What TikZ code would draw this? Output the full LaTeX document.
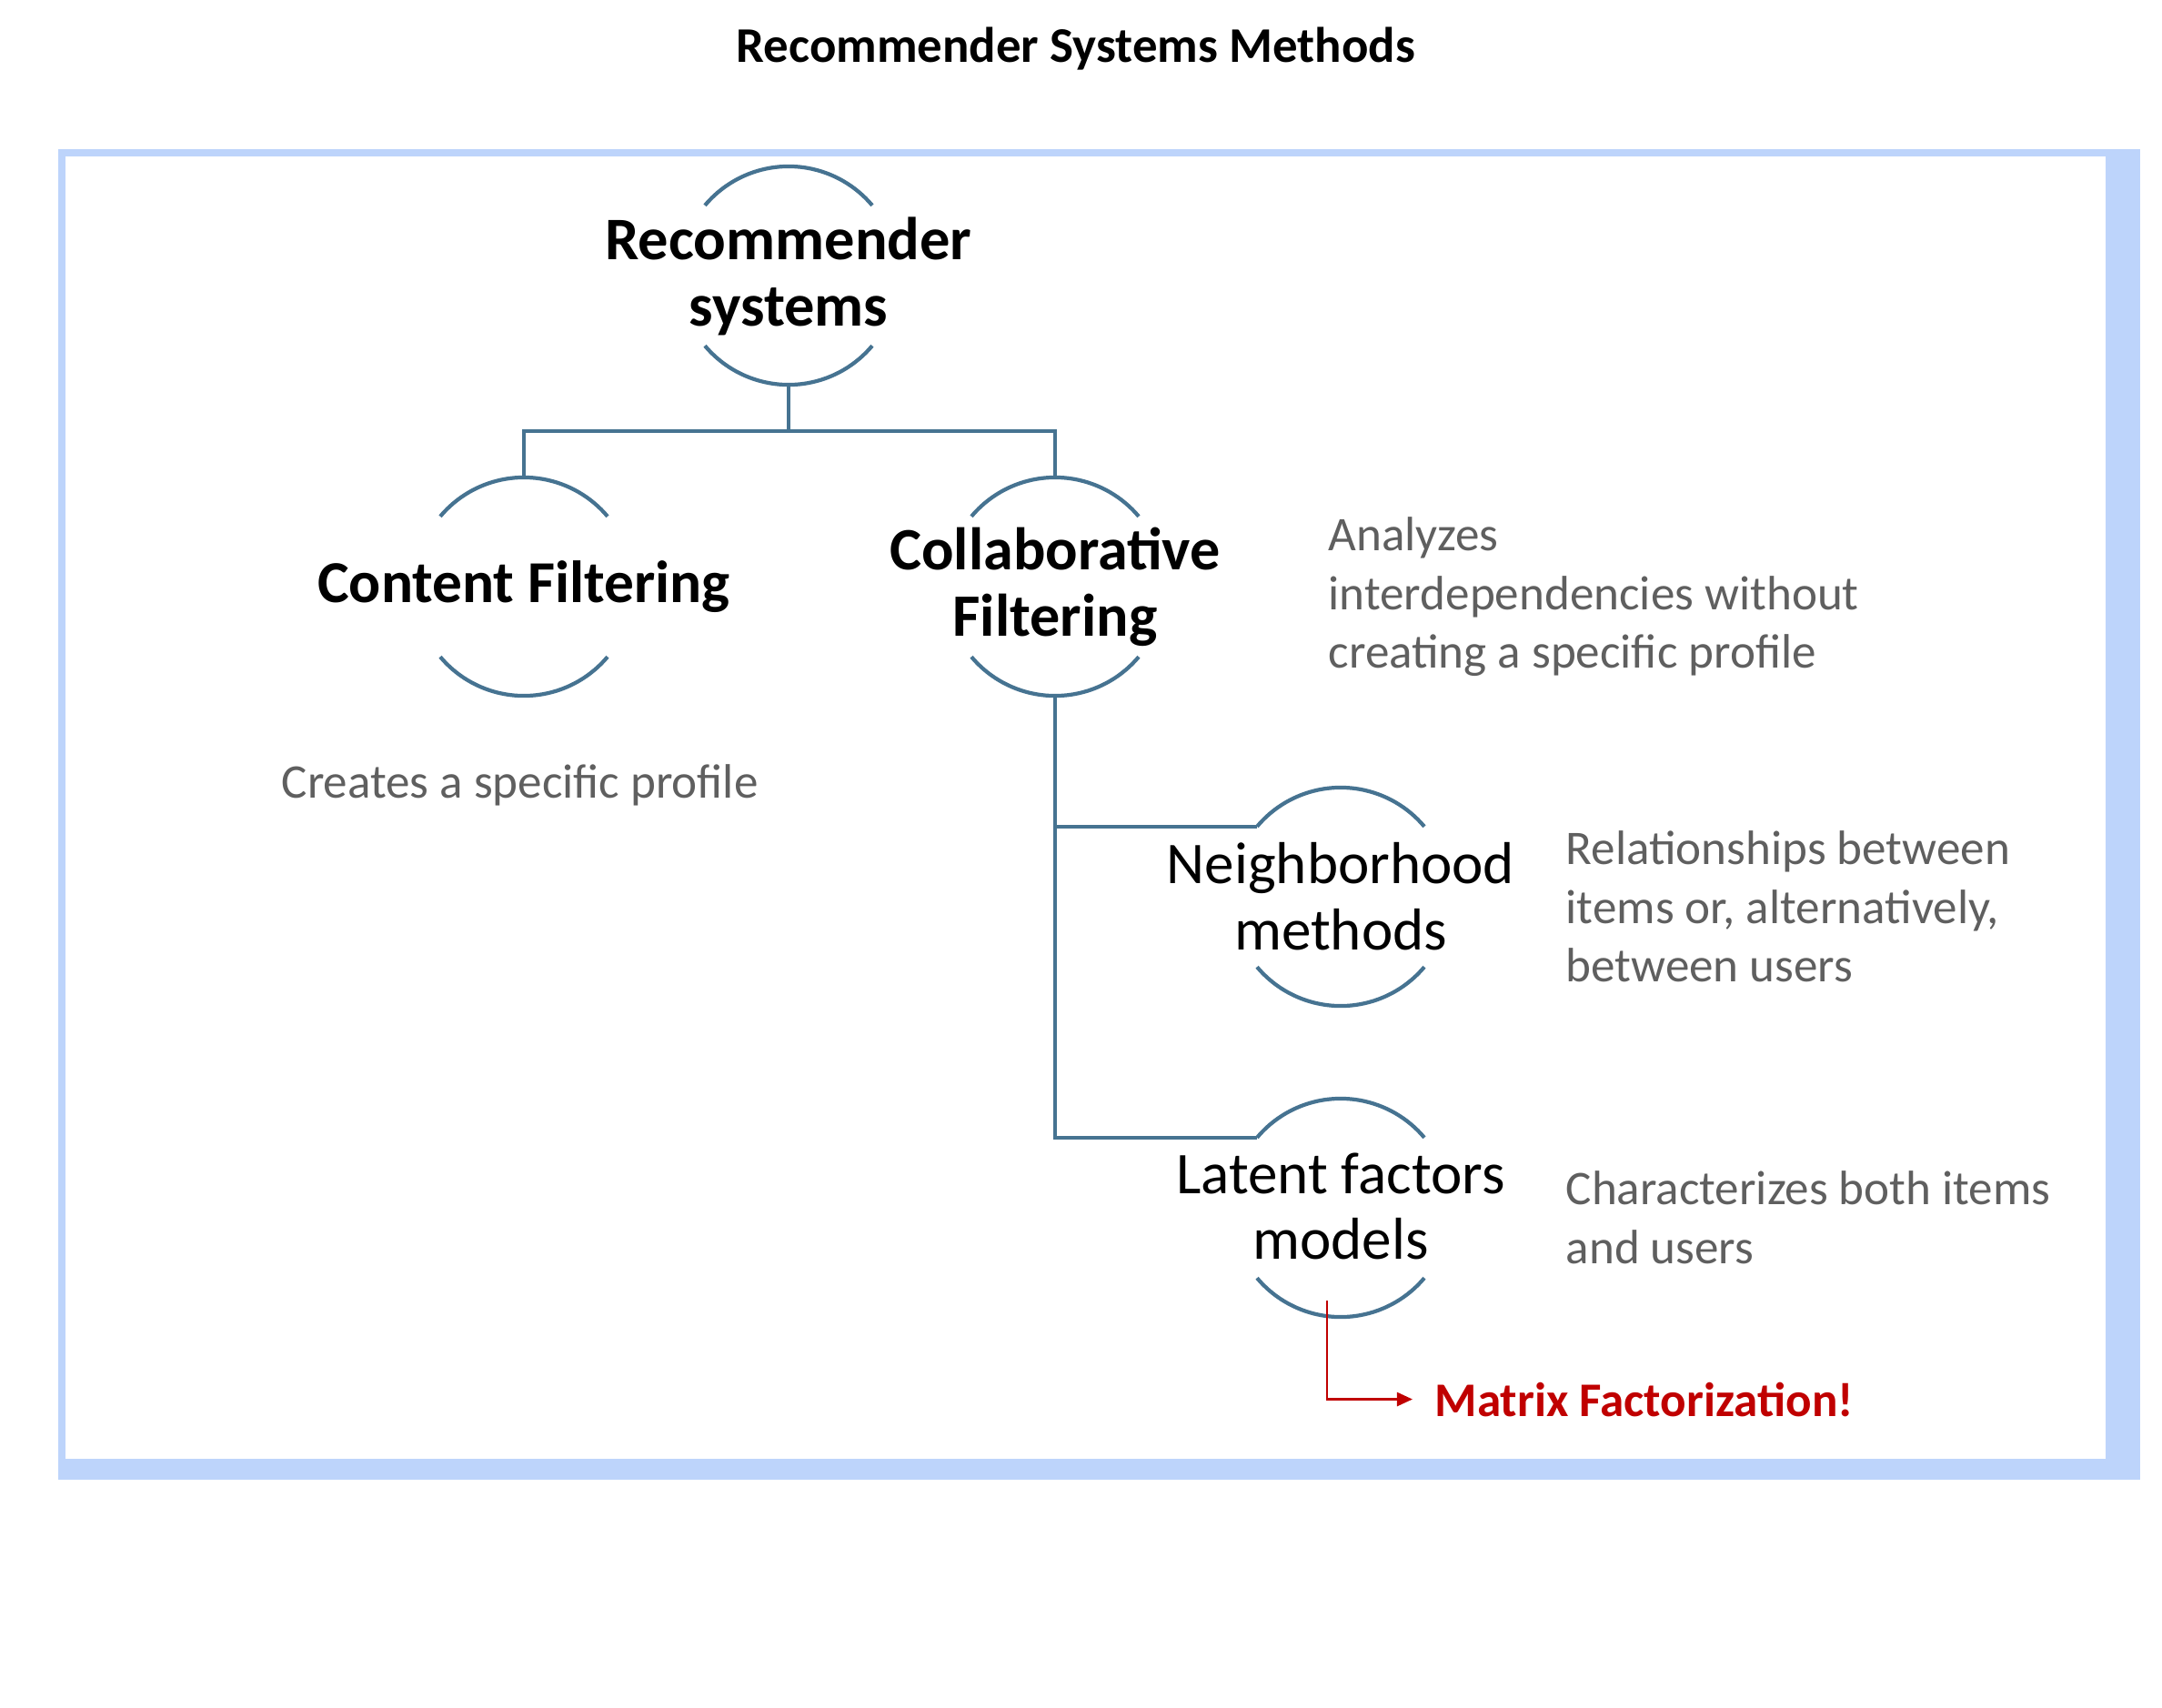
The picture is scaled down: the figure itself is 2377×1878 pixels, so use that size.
\documentclass[tikz,border=0pt]{standalone}
\usepackage{fontspec}
\setmainfont{Carlito}
\usetikzlibrary{arrows.meta}
\definecolor{framecol}{RGB}{189,212,251}
\definecolor{conncol}{RGB}{70,115,145}
\definecolor{desccol}{RGB}{95,95,95}
\definecolor{mfred}{RGB}{192,0,0}
\tikzset{
  ring/.style={shape=circle, draw=none, minimum size=2.4cm, inner sep=0pt, outer sep=0pt},
  arcline/.style={draw=conncol, line width=1.2pt},
  conn/.style={draw=conncol, line width=1.2pt},
  boldtext/.style={align=center, inner sep=0pt, font=\fontsize{18.6}{20.7}\selectfont\bfseries},
  regtext/.style={align=center, inner sep=0pt, font=\fontsize{18.5}{20.7}\selectfont},
  desc/.style={align=left, inner sep=0pt, text=desccol, font=\fontsize{15.1}{18.3}\selectfont},
  redarr/.style={draw=mfred, line width=0.7pt, -{Triangle[length=0.17cm,width=0.15cm]}},
}
\begin{document}
\begin{tikzpicture}[x=0.01cm, y=-0.01cm]
\useasboundingbox (0,0) rectangle (2377,1878);
% frame
\fill[framecol] (64,164) rectangle (2353,1627);
\fill[white] (72,172) rectangle (2315,1604);
% title
\node[anchor=base, inner sep=0pt, font=\fontsize{15.6}{18}\selectfont\bfseries] (title) at (1183,68) {Recommender Systems Methods};
% rings
\node[ring] (rs) at (867,303) {};
\node[ring] (cf) at (576,645) {};
\node[ring] (colf) at (1160,645) {};
\node[ring] (nm) at (1474,986) {};
\node[ring] (lf) at (1474,1328) {};
\foreach \n in {rs,cf,colf,nm,lf}{
  \draw[arcline] (\n.140) arc[start angle=140, end angle=40, radius=1.2cm];
  \draw[arcline] (\n.220) arc[start angle=220, end angle=320, radius=1.2cm];
}
% node texts
\node[boldtext, font=\fontsize{18.9}{20.7}\selectfont\bfseries] (rst) at ([yshift=-0.01cm]rs) {Recommender\\systems};
\node[boldtext] (cft) at (cf) {Content Filtering};
\node[boldtext, font=\fontsize{18.8}{20.7}\selectfont\bfseries] (colft) at (colf) {Collaborative\\Filtering};
\node[regtext] (nmt) at (nm) {Neighborhood\\methods};
\node[regtext] (lft) at ([yshift=0.015cm]lf) {Latent factors\\models};
% connectors
\coordinate (j1) at (867,474);
\draw[conn] (rs.south) -- (j1);
\draw[conn] (cf.north) -- (cf.north |- j1) -- (colf.north |- j1) -- (colf.north);
\draw[conn] (colf.south) |- (lf.140);
\draw[conn] (colf.south |- nm.140) -- (nm.140);
% descriptions
\node[desc, anchor=north west] (d1) at (1460,560) {\strut Analyzes\\interdependencies without\\creating a specific profile};
\node[desc, anchor=base west] (d2) at (309,877) {Creates a specific profile};
\node[desc, anchor=north west] (d3) at (1721,905) {\strut Relationships between\\items or, alternatively,\\between users};
\node[desc, anchor=north west] (d4) at (1721,1279) {\strut Characterizes both items\\and users};
% matrix factorization
\node[anchor=base west, inner sep=0pt, text=mfred, font=\fontsize{15.1}{18}\selectfont\bfseries] (mf) at (1577,1557) {Matrix Factorization!};
\coordinate (mfs) at (1459,1430);
\draw[redarr] (mfs) |- ([xshift=-0.24cm]mf.west);
\end{tikzpicture}
\end{document}
